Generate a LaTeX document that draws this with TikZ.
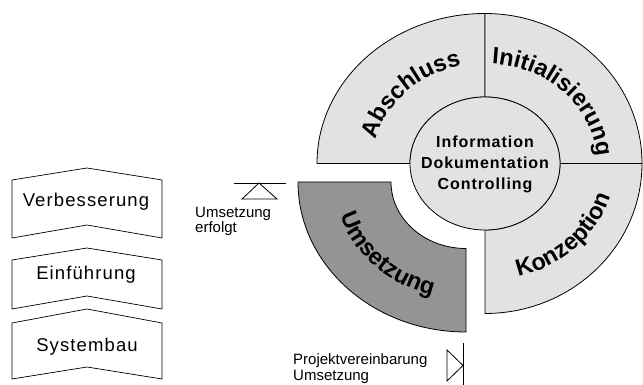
\documentclass[tikz,border=0pt]{standalone}
\usepackage{fontspec}
\setmainfont{Liberation Sans}
\newfontfamily\boxfont[LetterSpace=6]{Liberation Sans}
\newfontfamily\midfont[LetterSpace=6]{Liberation Sans}
\usetikzlibrary{decorations.text,calc}
\definecolor{lightfill}{HTML}{E2E2E2}
\definecolor{darkfill}{HTML}{949494}
\begin{document}
\begin{tikzpicture}[x=1pt,y=1pt,
  seg/.style={draw=black, line width=0.8pt, fill=lightfill},
  darkseg/.style={seg, fill=darkfill},
  chevron/.style={draw=black, line width=0.7pt, fill=white},
  boxtext/.style={anchor=base, font=\boxfont\fontsize{18.5}{20}\selectfont, inner sep=0pt},
  smalltext/.style={anchor=base west, font=\fontsize{15}{16}\selectfont, inner sep=0pt},
  midtext/.style={font=\midfont\bfseries\fontsize{16}{21}\selectfont, align=center, inner sep=0pt},
  milestone/.style={draw=black, line width=0.8pt},
  ringlabel/.style={decorate, decoration={text along path, text align=center,
      text={|\bfseries\fontsize{23.5}{24}\selectfont|#1}}}
]
\useasboundingbox (0,0) rectangle (643,385);
\clip (0,0) rectangle (643,385);

\coordinate (C) at (485,221.5);
\coordinate (U) at (466,203);

% ring segments
\path[seg] ($(C)+(-168,0)$) arc[start angle=180,end angle=90,x radius=168,y radius=150]
  -- ($(C)+(0,66.5)$) arc[start angle=90,end angle=180,x radius=75,y radius=66.5] -- cycle;
\path[seg] ($(C)+(0,150)$) arc[start angle=90,end angle=0,x radius=157,y radius=150]
  -- ($(C)+(75,0)$) arc[start angle=0,end angle=90,x radius=75,y radius=66.5] -- cycle;
\path[seg] ($(C)+(157,0)$) arc[start angle=0,end angle=-90,x radius=157,y radius=150]
  -- ($(C)+(0,-66.5)$) arc[start angle=-90,end angle=0,x radius=75,y radius=66.5] -- cycle;
\path[darkseg] ($(U)+(0,-150)$) arc[start angle=270,end angle=180,x radius=168,y radius=150]
  -- ($(U)+(-75,0)$) arc[start angle=180,end angle=270,x radius=75,y radius=66.5] -- cycle;

% centre
\path[seg] (C) ellipse[x radius=75,y radius=66.5];
\node[midtext] (centre) at ($(C)+(0,-1)$) {Information\\Dokumentation\\Controlling};

% ring labels
\path[ringlabel=Abschluss] ($(C)+(180:112 and 100)$) arc[start angle=180,end angle=90,x radius=112,y radius=100];
\path[ringlabel=Initialisierung] ($(C)+(90:112 and 100)$) arc[start angle=90,end angle=0,x radius=112,y radius=100];
\path[ringlabel=Konzeption] ($(C)+(-90:131 and 117)$) arc[start angle=-90,end angle=0,x radius=131,y radius=117];
\path[ringlabel=Umsetzung] ($(U)+(180:131 and 117)$) arc[start angle=180,end angle=270,x radius=131,y radius=117];

% phase chevrons
\draw[chevron] (12,205) -- (87,217) -- (162,205) -- (162,147) -- (87,160) -- (12,147) -- cycle;
\draw[chevron] (12,125) -- (87,137) -- (162,125) -- (162,76) -- (87,89) -- (12,76) -- cycle;
\draw[chevron] (12,62) -- (87,76) -- (162,62) -- (162,6) -- (87,18) -- (12,6) -- cycle;
\node[boxtext] (verb) at (86,178) {Verbesserung};
\node[boxtext] (einf) at (86,105) {Einführung};
\node[boxtext] (sysb) at (87,33) {Systembau};

% milestone 1
\coordinate (m1l) at (234,202);
\coordinate (m1r) at (286,202);
\coordinate (m1a) at (259,202);
\coordinate (m1b) at (242,186);
\coordinate (m1c) at (277,186);
\draw[milestone] (m1l) -- (m1r);
\draw[milestone] (m1a) -- (m1b) -- (m1c) -- cycle;
\node[smalltext] (m1t1) at (195,167) {Umsetzung};
\node[smalltext] (m1t2) at (195,152) {erfolgt};

% milestone 2
\coordinate (m2t) at (463,42);
\coordinate (m2b) at (463,0);
\coordinate (m2a) at (463,19.5);
\coordinate (m2u) at (447,35);
\coordinate (m2d) at (447,4);
\draw[milestone] (m2t) -- (m2b);
\draw[milestone] (m2a) -- (m2u) -- (m2d) -- cycle;
\node[smalltext] (m2t1) at (293,20) {Projektvereinbarung};
\node[smalltext] (m2t2) at (293,4) {Umsetzung};
\end{tikzpicture}
\end{document}
